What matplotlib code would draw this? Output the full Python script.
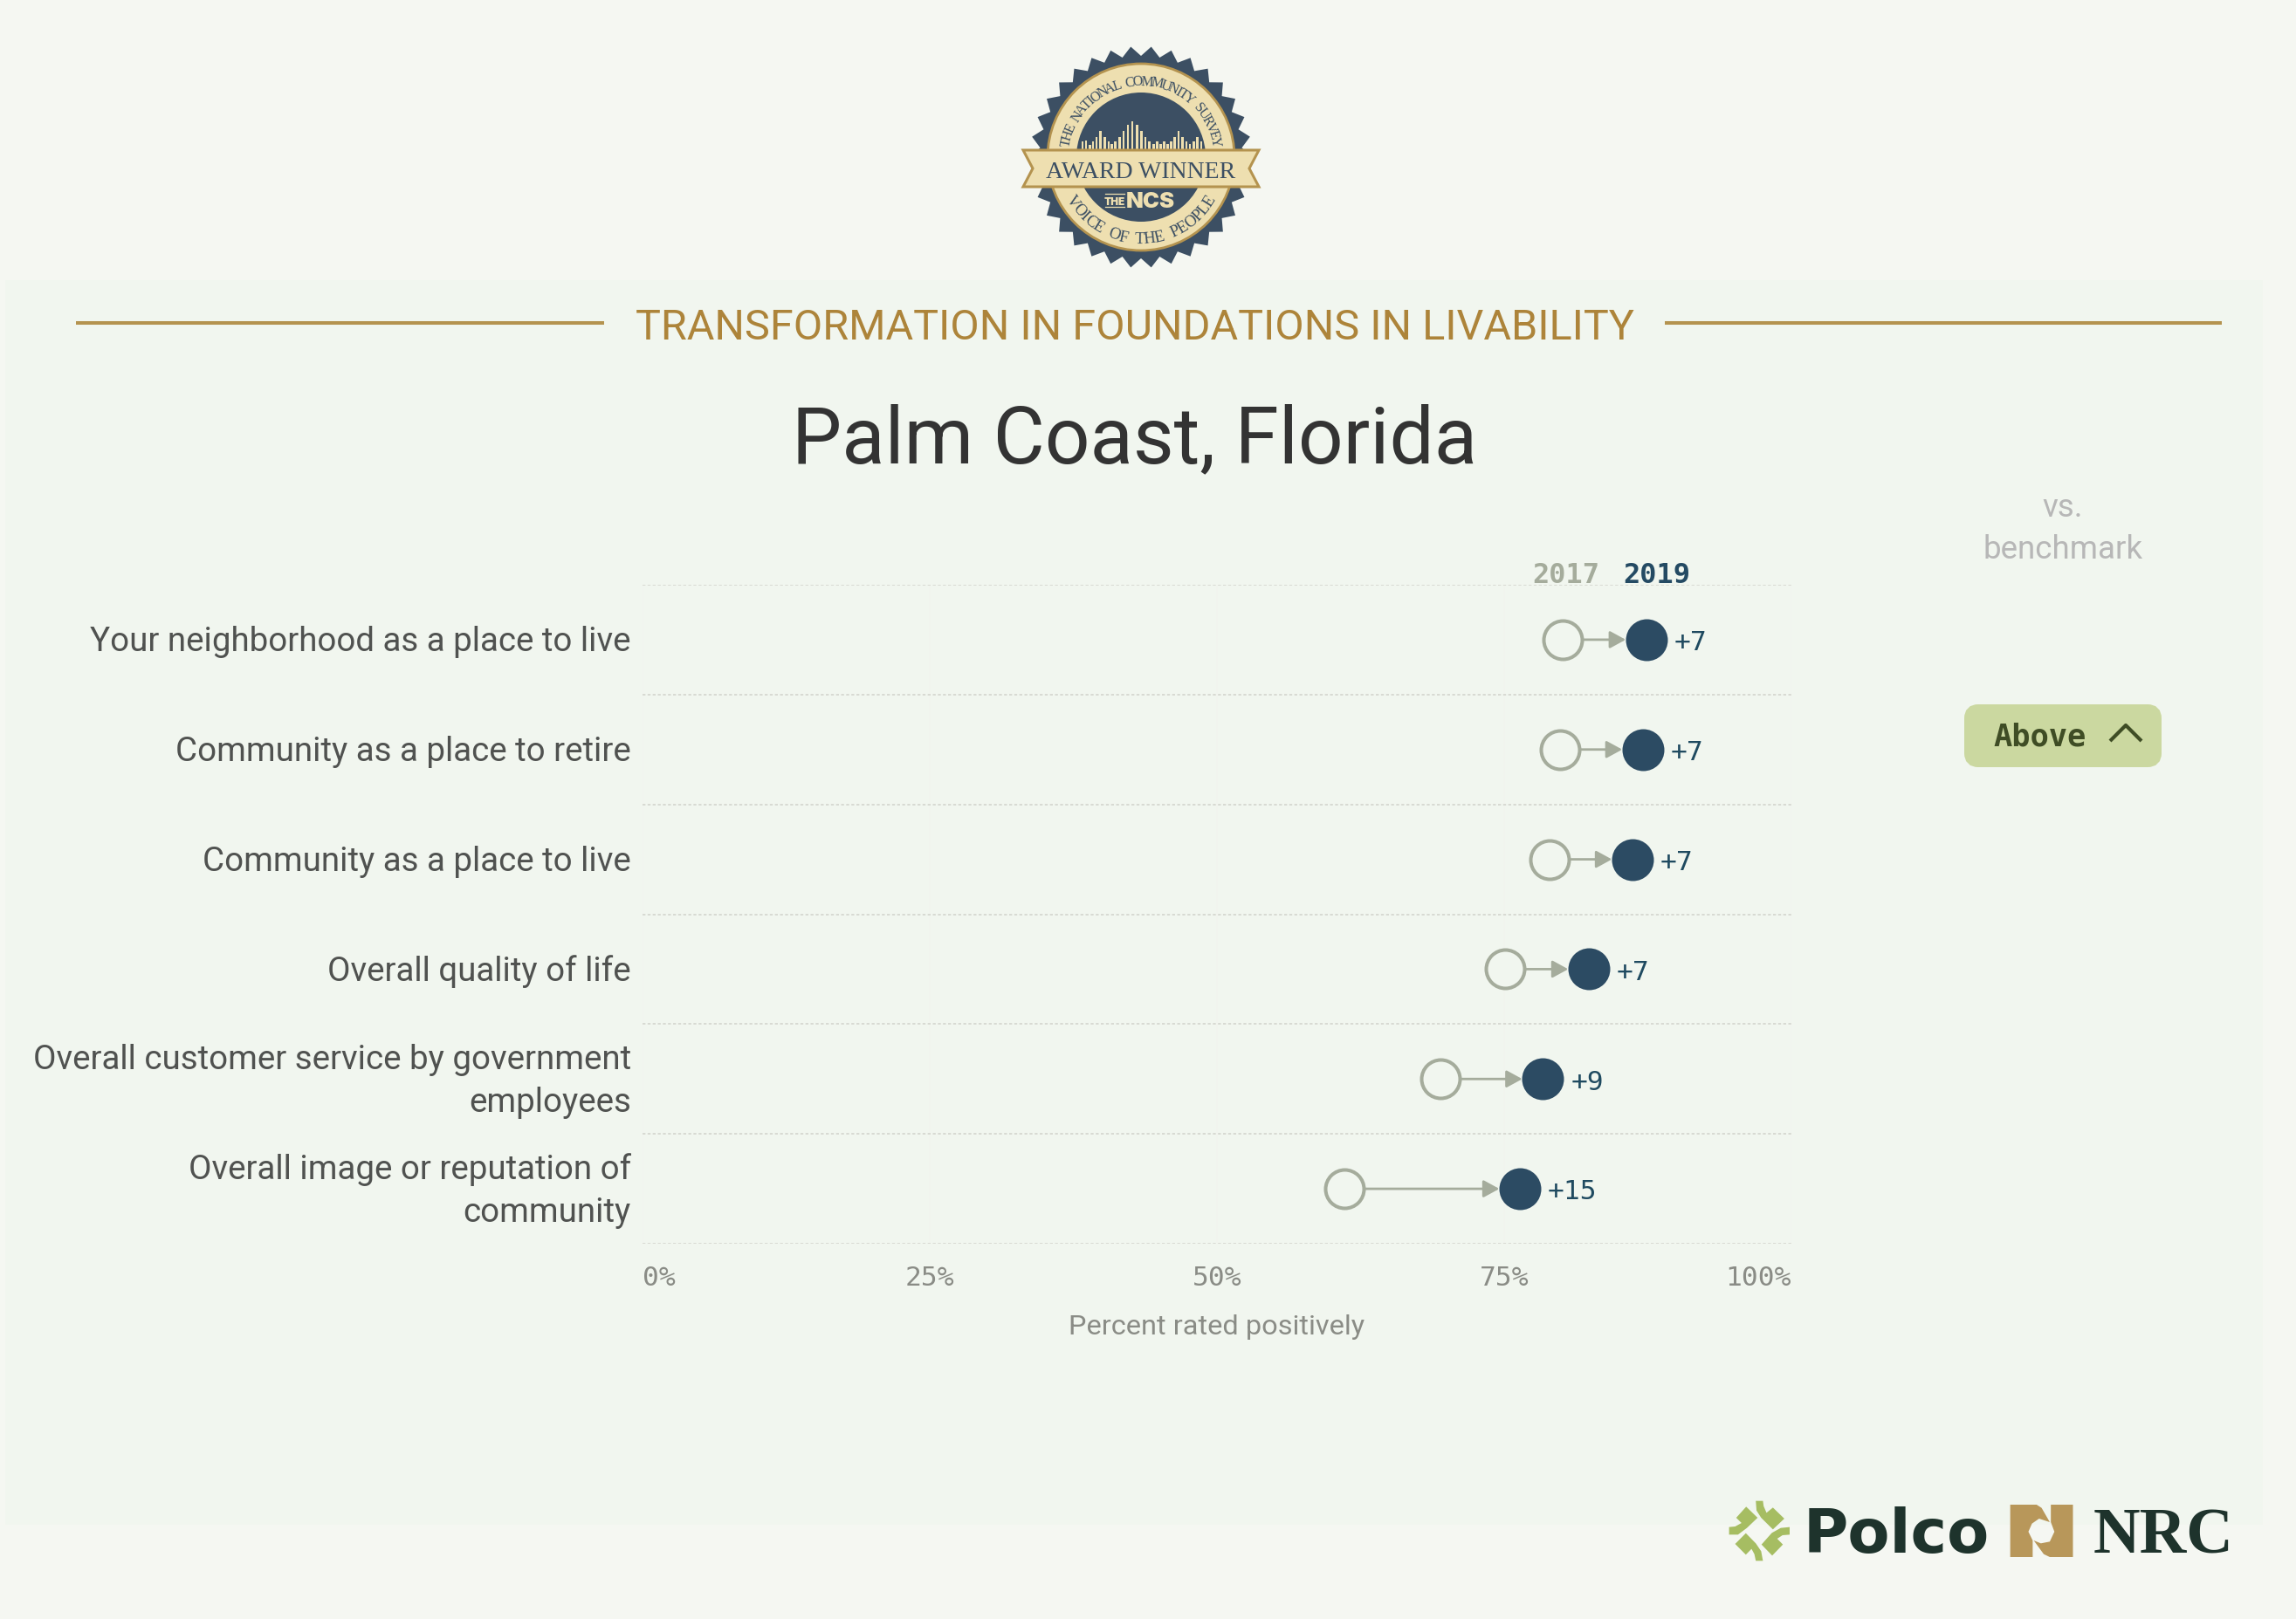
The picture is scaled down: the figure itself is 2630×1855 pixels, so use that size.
#!/usr/bin/env python3
# -*- coding: utf-8 -*-
import numpy as np
import matplotlib
matplotlib.use('Agg')
import matplotlib.pyplot as plt
from matplotlib.patches import Polygon, Rectangle, Circle, FancyBboxPatch
from matplotlib.font_manager import FontProperties
from matplotlib.transforms import ScaledTranslation

# %% data
categories = ['Your neighborhood as a place to live',
              'Community as a place to retire',
              'Community as a place to live',
              'Overall quality of life',
              'Overall customer service by government\nemployees',
              'Overall image or reputation of\ncommunity']
values_2017 = [80.07, 79.87, 78.97, 75.07, 69.47, 61.07]
values_2019 = [87.37, 87.07, 86.17, 82.37, 78.37, 76.37]
changes = ['+7', '+7', '+7', '+7', '+9', '+15']
xticks = [0, 25, 50, 75, 100]
xtick_labels = ['0%', '25%', '50%', '75%', '100%']

PAGE = '#f5f7f2'
PANEL = '#f1f6ef'
GOLD = '#b4934f'
NAVY = '#2c4b63'
GREY = '#a5ac9c'
SEAL = '#3c4f63'
CREAM = '#eedfb0'
W, H = 2630, 1856

plt.rcParams['font.family'] = ['Roboto', 'DejaVu Sans']
fig = plt.figure(figsize=(W / 100, H / 100), dpi=100, facecolor=PAGE)

# %% pixel layer for the page furniture
bg = fig.add_axes([0, 0, 1, 1], zorder=0)
bg.set_xlim(0, W)
bg.set_ylim(H, 0)
bg.axis('off')
bg.add_patch(Rectangle((6, 322), 2586, 1426, fc=PANEL, ec='none'))

# header
bg.plot([87, 692], [371, 371], color=GOLD, lw=2.9, solid_capstyle='butt')
bg.plot([1907, 2545], [371, 371], color=GOLD, lw=2.9, solid_capstyle='butt')
bg.text(1300, 376, 'TRANSFORMATION IN FOUNDATIONS IN LIVABILITY', color='#ad843a',
        fontsize=34.9, ha='center', va='center')
bg.text(1300, 505, 'Palm Coast, Florida', color='#333333', fontsize=65.3,
        ha='center', va='center')

# benchmark column
bg.text(2363, 582, 'vs.', color='#b7b7b7', fontsize=26.5, ha='center', va='center')
bg.text(2363, 630, 'benchmark', color='#b7b7b7', fontsize=26.5, ha='center', va='center')
bg.add_patch(FancyBboxPatch((2258, 816), 210, 56, boxstyle='round,pad=0,rounding_size=8',
                            mutation_aspect=1, fc='#cbd8a0', ec='#cbd8a0', lw=11.5))
bg.text(2283, 845, 'Above', color='#3f4d25', fontsize=25.5, family='DejaVu Sans Mono',
        weight='bold', ha='left', va='center')
bg.plot([2417, 2435, 2453], [850, 832, 850], color='#3f4d25', lw=3, solid_capstyle='butt')

# year labels
bg.text(1794, 668, '2017', color=GREY, fontsize=23, family='DejaVu Sans Mono',
        weight='bold', ha='center', va='baseline')
bg.text(1898, 668, '2019', color='#244a63', fontsize=23, family='DejaVu Sans Mono',
        weight='bold', ha='center', va='baseline')


# %% seal
def arc_text(text, cx, cy, r, start, end, size, top=True):
    prop = FontProperties(family='Liberation Serif', size=size)
    rend = fig.canvas.get_renderer()
    widths = [rend.get_text_width_height_descent(c if c != ' ' else 'n', prop, False)[0]
              for c in text]
    edges = np.cumsum([0] + widths)
    mids = (edges[:-1] + edges[1:]) / 2 / edges[-1]
    for c, m in zip(text, mids):
        th = start + (end - start) * m
        rad = np.deg2rad(th)
        bg.text(cx + r * np.cos(rad), cy - r * np.sin(rad), c, color=SEAL, fontproperties=prop,
                rotation=th - 90 if top else th - 270, rotation_mode='anchor',
                ha='center', va='baseline')


cx, cy = 1307, 181
angles = np.deg2rad(np.arange(68) * 360 / 68 + 90)
radii = np.where(np.arange(68) % 2 == 0, 116, 127)
bg.add_patch(Polygon(np.c_[cx + radii * np.cos(angles), cy - radii * np.sin(angles)],
                     fc=SEAL, ec='none'))
bg.add_patch(Circle((cx, cy), 107, fc=CREAM, ec=GOLD, lw=2))
bg.add_patch(Circle((cx, cy), 74, fc=SEAL, ec='none'))
arc_text('THE NATIONAL COMMUNITY SURVEY', cx, cy, 83, 171, 9, 11.5, top=True)
arc_text('VOICE OF THE PEOPLE', cx, cy, 98, 209, 331, 13.5, top=False)

# skyline inside the seal
bar_x = [420, 432, 445, 456, 468, 481, 496, 510, 521, 533, 547, 561, 576, 591, 607, 622,
         636, 650, 664, 677, 688, 700, 712, 724, 737, 750, 764, 777, 789, 802, 815, 828]
bar_top = [400, 395, 410, 398, 383, 363, 383, 398, 408, 398, 383, 363, 343, 330, 343, 363,
           383, 398, 408, 398, 408, 398, 408, 398, 383, 363, 383, 398, 408, 398, 383, 398]
for bx, bt in zip(bar_x, bar_top):
    bg.add_patch(Rectangle((1100 + bx / 3 - 1.3, 30 + bt / 3), 2.6, (427 - bt) / 3,
                           fc=CREAM, ec='none'))

ribbon = [(1172, 173), (1442, 173), (1431, 194), (1442, 215), (1172, 215), (1183, 194)]
bg.add_patch(Polygon(ribbon, fc=CREAM, ec=GOLD, lw=2.2))
bg.text(1307, 197, 'AWARD WINNER', color=SEAL, fontsize=20, family='Liberation Serif',
        ha='center', va='center')
bg.text(1318, 232, 'NCS', color=CREAM, fontsize=18.5, family='Inter', weight='black',
        ha='center', va='center')
bg.text(1277, 232, 'THE', color=CREAM, fontsize=8.5, family='Inter', weight='black',
        ha='center', va='center')
for ly in (223, 238):
    bg.plot([1266, 1288], [ly, ly], color=CREAM, lw=0.9)


# %% logos, traced from the footer
def zx(p):
    return [(1950 + a / 2.45, 1680 + b / 3) for a, b in p]


polco_mark = [
    [(150, 122), (170, 122), (172, 140), (180, 163), (198, 145), (230, 183), (198, 220), (165, 180), (152, 155)],
    [(123, 142), (155, 180), (125, 215), (100, 238), (75, 238), (75, 212), (92, 210), (110, 198), (95, 180)],
    [(245, 212), (245, 238), (225, 240), (210, 252), (226, 272), (196, 310), (166, 272), (195, 232), (220, 215)],
    [(122, 233), (150, 268), (165, 295), (170, 328), (150, 328), (146, 305), (138, 287), (122, 307), (92, 270)],
]
for piece in polco_mark:
    bg.add_patch(Polygon(zx(piece), fc='#a6bd62', ec='none'))
bg.text(2066, 1779, 'Polco', color='#1e332c', fontsize=50.5, family='DejaVu Sans', weight='bold',
        ha='left', va='baseline')
nrc_left = [(864, 135), (938, 135), (952, 146), (975, 195), (945, 183), (925, 200), (915, 228),
            (927, 258), (927, 315), (864, 315)]
nrc_right = [(978, 135), (1040, 135), (1040, 315), (975, 315), (958, 305), (930, 258), (950, 268),
             (975, 262), (988, 228), (978, 195)]
bg.add_patch(Polygon(zx(nrc_left), fc='#b8975a', ec='none'))
bg.add_patch(Polygon(zx(nrc_right), fc='#b8975a', ec='none'))
bg.text(2398, 1780, 'NRC', color='#1e332c', fontsize=53.5, family='Liberation Serif', weight='bold',
        ha='left', va='baseline')

# %% chart
ax = fig.add_axes([736 / W, 1 - 1426 / H, (2052 - 736) / W, (1426 - 671) / H], zorder=1)
ax.patch.set_alpha(0)
ax.set_xlim(0, 100)
ax.set_ylim(len(categories), 0)
for s in ax.spines.values():
    s.set_visible(False)

y = np.arange(len(categories)) + 0.5
for t in xticks:
    ax.axvline(t, color='#f2f4ee', lw=1.1, zorder=1)
for i in range(len(categories) + 1):
    ax.axhline(i, color='#d3d5ce', lw=1.2, ls=(0, (2, 1.5)), zorder=1)

ax.set_xticks(xticks)
ax.set_xticklabels(xtick_labels, family='DejaVu Sans Mono', fontsize=22.5, color='#8a8c86')
ticks = ax.get_xticklabels()
ticks[0].set_ha('left')
ticks[-1].set_ha('right')
ax.set_yticks(y)
ax.set_yticklabels(categories, fontsize=27.7, color='#505250', linespacing=1.42, ha='right')
ax.tick_params(axis='both', length=0)
ax.tick_params(axis='x', pad=17)
ax.tick_params(axis='y', pad=9.5)
# one line labels sit a touch above the row centre, two line ones further
# (has to come after tick_params, it resets the label transforms)
for lbl, cat in zip(ax.get_yticklabels(), categories):
    up = 0.085 if '\n' in cat else 0.02
    lbl.set_transform(lbl.get_transform() + ScaledTranslation(0, up, fig.dpi_scale_trans))
ax.set_xlabel('Percent rated positively', fontsize=23.4, color='#8a8c86', labelpad=20)

for yi, a, b, c in zip(y, values_2017, values_2019, changes):
    ax.annotate('', xy=(b, yi), xytext=(a, yi), zorder=2,
                arrowprops=dict(arrowstyle='-|>,head_length=0.55,head_width=0.3', color=GREY, lw=2,
                                shrinkA=17, shrinkB=17, mutation_scale=20))
    ax.annotate(c, (b, yi), xytext=(23, -2), textcoords='offset points', family='DejaVu Sans Mono',
                fontsize=22.5, color='#1f4a60', va='center', ha='left')
ax.scatter(values_2017, y, s=1004, facecolor=PANEL, edgecolor=GREY, linewidth=2.9, zorder=3)
ax.scatter(values_2019, y, s=1194, color=NAVY, linewidth=0, zorder=3)

fig.savefig('out.png', dpi=100, facecolor=PAGE)
